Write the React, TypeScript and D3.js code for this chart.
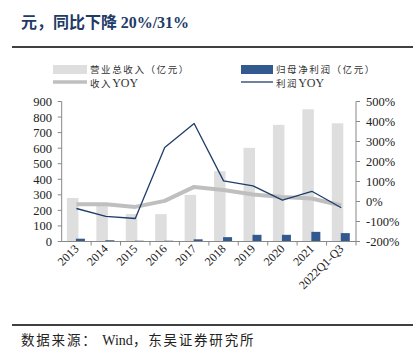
import React from "react";
import * as d3 from "d3";

const categories = ["2013", "2014", "2015", "2016", "2017", "2018", "2019", "2020", "2021", "2022Q1-Q3"];
const revenue = [280, 232, 176, 176, 300, 452, 602, 750, 850, 760];
const netProfit = [18, 8, 5, 5, 14, 28, 43, 43, 62, 54];
const revenueYoy = [-14, -14, -27, 3, 73, 58, 35, 23, 15, -20];
const profitYoy = [-35, -74, -85, 270, 390, 103, 78, 7, 51, -31];
const leftTicks = [0, 100, 200, 300, 400, 500, 600, 700, 800, 900];
const rightTicks = [-200, -100, 0, 100, 200, 300, 400, 500];

const W = 414, H = 364;
const x0 = 61.7, x1 = 356, yTop = 101.5, yBot = 241.5;
const serif = "'Liberation Serif', 'Times New Roman', serif";
const cjk = "'Noto Sans CJK SC', sans-serif";

export default function App() {
  const x = d3.scaleBand<string>().domain(categories).range([x0, x1]);
  const yL = d3.scaleLinear().domain([0, 900]).range([yBot, yTop]);
  const yR = d3.scaleLinear().domain([-200, 500]).range([yBot, yTop]);
  const bw = x.bandwidth();
  const cx = (c: string) => (x(c) as number) + bw / 2;
  const line = d3.line<number>().x((_, i) => cx(categories[i])).y((d) => yR(d));

  return (
    <svg width={W} height={H} style={{ position: "absolute", left: 0, top: 0, background: "#fff" }}>
      <text x={21} y={28} fontWeight="bold" fontSize={16} fill="#213a66">
        <tspan fontFamily={cjk}>元，同比下降 </tspan>
        <tspan fontFamily={serif}>20%/31%</tspan>
      </text>
      <line x1={12} x2={413} y1={47} y2={47} stroke="#000" strokeWidth={1.5} />

      {/* legend */}
      <rect x={53} y={65} width={34} height={9} fill="#dedede" />
      <text x={90} y={73} fontFamily={cjk} fontSize={9.5} letterSpacing={1.6} fill="#333">营业总收入（亿元）</text>
      <rect x={241} y={65} width={32} height={9} fill="#335a8e" />
      <text x={276} y={73} fontFamily={cjk} fontSize={9.5} letterSpacing={1.6} fill="#333">归母净利润（亿元）</text>
      <line x1={53} x2={87} y1={82} y2={82} stroke="#bfbfbf" strokeWidth={3.5} />
      <text x={90} y={87} fontSize={9.5} fill="#333">
        <tspan fontFamily={cjk} letterSpacing={1.6}>收入</tspan><tspan fontFamily={serif} fontSize={12}>YOY</tspan>
      </text>
      <line x1={241} x2={273} y1={82} y2={82} stroke="#1f3d6b" strokeWidth={1.3} />
      <text x={276} y={87} fontSize={9.5} fill="#333">
        <tspan fontFamily={cjk} letterSpacing={1.6}>利润</tspan><tspan fontFamily={serif} fontSize={12}>YOY</tspan>
      </text>

      {/* bars */}
      {categories.map((c, i) => (
        <rect key={"r" + c} x={cx(c) - 9.5} y={yL(revenue[i])} width={11.5} height={yBot - yL(revenue[i])} fill="#dedede" />
      ))}
      {categories.map((c, i) => (
        <rect key={"p" + c} x={cx(c) - 0.5} y={yL(netProfit[i])} width={9} height={yBot - yL(netProfit[i])} fill="#335a8e" />
      ))}

      {/* lines */}
      <path d={line(revenueYoy) || ""} fill="none" stroke="#bfbfbf" strokeWidth={4} strokeLinejoin="round" />
      <path d={line(profitYoy) || ""} fill="none" stroke="#1f3d6b" strokeWidth={1.3} strokeLinejoin="round" />

      {/* left axis */}
      <line x1={x0} x2={x0} y1={yTop} y2={yBot} stroke="#888" />
      {leftTicks.map((t) => (
        <g key={"l" + t}>
          <line x1={x0 - 4} x2={x0} y1={yL(t)} y2={yL(t)} stroke="#888" />
          <text x={52} y={yL(t) + 4.5} textAnchor="end" fontFamily={serif} fontSize={12.5} fill="#222">{t}</text>
        </g>
      ))}
      {/* right axis */}
      <line x1={x1} x2={x1} y1={yTop} y2={yBot} stroke="#888" />
      {rightTicks.map((t) => (
        <g key={"rt" + t}>
          <line x1={x1} x2={x1 + 4} y1={yR(t)} y2={yR(t)} stroke="#888" />
          <text x={366} y={yR(t) + 4.5} textAnchor="start" fontFamily={serif} fontSize={12.5} fill="#222">{t + "%"}</text>
        </g>
      ))}
      {/* bottom axis */}
      <line x1={x0} x2={x1} y1={yBot} y2={yBot} stroke="#888" />
      {categories.map((c) => (
        <line key={"bt" + c} x1={(x(c) as number) + bw} x2={(x(c) as number) + bw} y1={yBot} y2={yBot + 4} stroke="#888" />
      ))}
      {categories.map((c) => (
        <text key={"xl" + c} transform={`translate(${cx(c) + 3},${yBot + 8}) rotate(-45)`} textAnchor="end" fontFamily={serif} fontSize={12} fill="#222">{c}</text>
      ))}

      <line x1={12} x2={413} y1={325} y2={325} stroke="#000" strokeWidth={1.5} />
      <text x={21} y={345} fontSize={13.5} fill="#222">
        <tspan fontFamily={cjk} letterSpacing={1.8}>数据来源： </tspan><tspan fontFamily={serif} fontSize={14}>Wind</tspan><tspan fontFamily={cjk} letterSpacing={1.8}>，东吴证券研究所</tspan>
      </text>
    </svg>
  );
}
